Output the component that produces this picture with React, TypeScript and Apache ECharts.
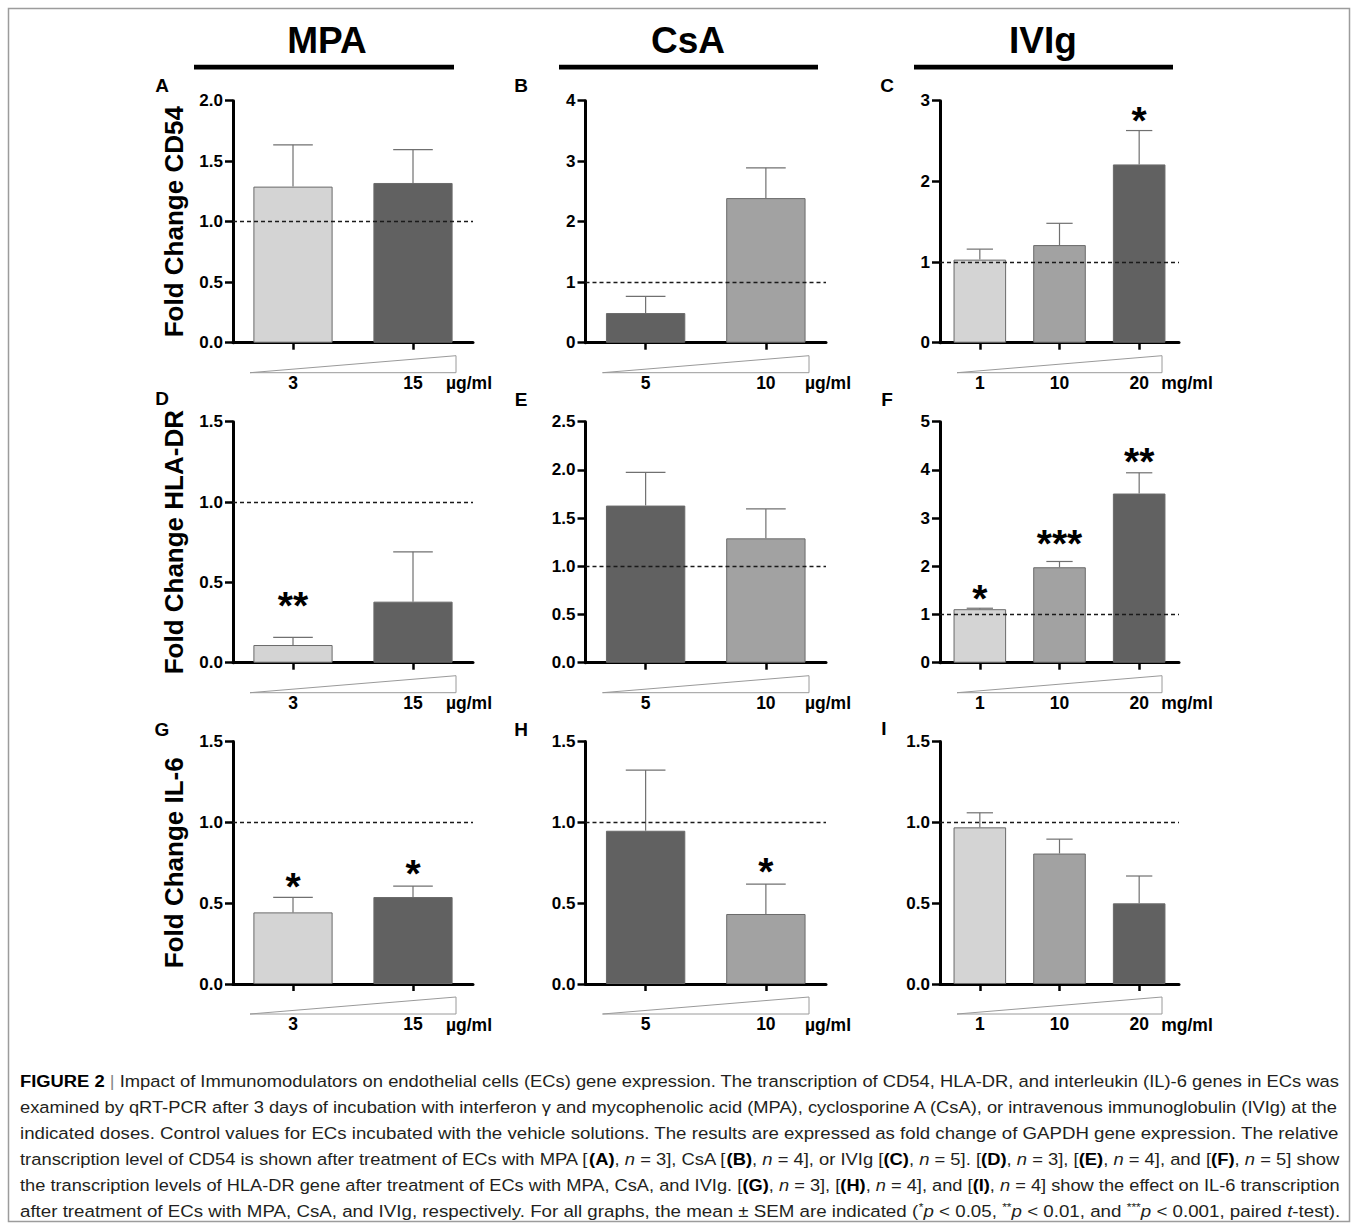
import React, { useEffect, useRef } from 'react';
import * as echarts from 'echarts';

const FONT = '"Liberation Sans", Arial, Helvetica, sans-serif';

// ---------- data ----------
const drugTitles = ['MPA', 'CsA', 'IVIg'];
const geneTitles = ['Fold Change CD54', 'Fold Change HLA-DR', 'Fold Change IL-6'];
const panelLetters = ['A', 'B', 'C', 'D', 'E', 'F', 'G', 'H', 'I'];
const dosesMPA = ['3', '15'];
const dosesCsA = ['5', '10'];
const dosesIVIg = ['1', '10', '20'];
const doseUnits = ['µg/ml', 'µg/ml', 'mg/ml'];

const cd54MPA = [1.29, 1.32];
const cd54MPASem = [0.345, 0.275];
const cd54CsA = [0.49, 2.39];
const cd54CsASem = [0.275, 0.5];
const cd54IVIg = [1.03, 1.21, 2.21];
const cd54IVIgSem = [0.13, 0.27, 0.42];

const hlaMPA = [0.11, 0.38];
const hlaMPASem = [0.048, 0.31];
const hlaCsA = [1.63, 1.29];
const hlaCsASem = [0.345, 0.305];
const hlaIVIg = [1.11, 1.98, 3.51];
const hlaIVIgSem = [0.02, 0.12, 0.43];

const il6MPA = [0.443, 0.538];
const il6MPASem = [0.093, 0.068];
const il6CsA = [0.948, 0.433];
const il6CsASem = [0.375, 0.185];
const il6IVIg = [0.969, 0.807, 0.499];
const il6IVIgSem = [0.09, 0.089, 0.169];

const yMaxes = [2, 4, 3, 1.5, 2.5, 5, 1.5, 1.5, 1.5];
const ySteps = [0.5, 1, 1, 0.5, 0.5, 1, 0.5, 0.5, 0.5];
const controlLevel = 1;

// significance marks: [category index, level (value units), text]
const starsC = [{ k: 2, v: 2.86, t: '*' }];
const starsD = [{ k: 0, v: 0.41, t: '**' }];
const starsF = [
  { k: 0, v: 1.51, t: '*' },
  { k: 1, v: 2.65, t: '***' },
  { k: 2, v: 4.36, t: '**' },
];
const starsG = [
  { k: 0, v: 0.66, t: '*' },
  { k: 1, v: 0.74, t: '*' },
];
const starsH = [{ k: 1, v: 0.75, t: '*' }];

const LIGHT = '#d4d4d4';
const MID = '#a2a2a2';
const DARK = '#616161';

const captionLines = [
  '<b>FIGURE 2</b> <g>|</g> Impact of Immunomodulators on endothelial cells (ECs) gene expression. The transcription of CD54, HLA-DR, and interleukin (IL)-6 genes in ECs was',
  'examined by qRT-PCR after 3 days of incubation with interferon γ and mycophenolic acid (MPA), cyclosporine A (CsA), or intravenous immunoglobulin (IVIg) at the',
  'indicated doses. Control values for ECs incubated with the vehicle solutions. The results are expressed as fold change of GAPDH gene expression. The relative',
  'transcription level of CD54 is shown after treatment of ECs with MPA [<b>(A)</b>, <i>n</i> = 3], CsA [<b>(B)</b>, <i>n</i> = 4], or IVIg [<b>(C)</b>, <i>n</i> = 5]. [<b>(D)</b>, <i>n</i> = 3], [<b>(E)</b>, <i>n</i> = 4], and [<b>(F)</b>, <i>n</i> = 5] show',
  'the transcription levels of HLA-DR gene after treatment of ECs with MPA, CsA, and IVIg. [<b>(G)</b>, <i>n</i> = 3], [<b>(H)</b>, <i>n</i> = 4], and [<b>(I)</b>, <i>n</i> = 4] show the effect on IL-6 transcription',
  'after treatment of ECs with MPA, CsA, and IVIg, respectively. For all graphs, the mean ± SEM are indicated (<s>*</s><i>p</i> < 0.05, <s>**</s><i>p</i> < 0.01, and <s>***</s><i>p</i> < 0.001, paired <i>t</i>-test).',
];

const panels = [
  { cats: dosesMPA, means: cd54MPA, sem: cd54MPASem, shades: [LIGHT, DARK], stars: [] as any[] },
  { cats: dosesCsA, means: cd54CsA, sem: cd54CsASem, shades: [DARK, MID], stars: [] as any[] },
  { cats: dosesIVIg, means: cd54IVIg, sem: cd54IVIgSem, shades: [LIGHT, MID, DARK], stars: starsC },
  { cats: dosesMPA, means: hlaMPA, sem: hlaMPASem, shades: [LIGHT, DARK], stars: starsD },
  { cats: dosesCsA, means: hlaCsA, sem: hlaCsASem, shades: [DARK, MID], stars: [] as any[] },
  { cats: dosesIVIg, means: hlaIVIg, sem: hlaIVIgSem, shades: [LIGHT, MID, DARK], stars: starsF },
  { cats: dosesMPA, means: il6MPA, sem: il6MPASem, shades: [LIGHT, DARK], stars: starsG },
  { cats: dosesCsA, means: il6CsA, sem: il6CsASem, shades: [DARK, MID], stars: starsH },
  { cats: dosesIVIg, means: il6IVIg, sem: il6IVIgSem, shades: [LIGHT, MID, DARK], stars: [] as any[] },
];

// ---------- layout ----------
const COL_L = [233, 585.5, 940];
const COL_R = [473, 826, 1179];
const ROW_T = [100.7, 421.7, 741.5];
const ROW_B = [342.7, 662.7, 984];
const TITLE_BAR = [
  [194, 454],
  [559, 818],
  [914, 1173],
];
const TITLE_X = [327, 688, 1043];
const UNIT_X = [469, 828, 1187];
const LETTER_POS = [
  [162, 85], [521, 85], [887, 85],
  [162, 398], [521, 399], [887, 399],
  [162, 729], [521, 729], [884, 728],
];

function parseLine(line: string) {
  const segs: { s: string; t: string }[] = [];
  const re = /<(b|i|s|g)>(.*?)<\/\1>/g;
  let last = 0;
  let m: RegExpExecArray | null;
  while ((m = re.exec(line))) {
    if (m.index > last) segs.push({ s: 'n', t: line.slice(last, m.index) });
    segs.push({ s: m[1], t: m[2] });
    last = m.index + m[0].length;
  }
  if (last < line.length) segs.push({ s: 'n', t: line.slice(last) });
  return segs;
}

const CAP_FS = 17;
const capFonts: Record<string, string> = {
  n: `${CAP_FS}px ${FONT}`,
  b: `bold ${CAP_FS}px ${FONT}`,
  i: `italic ${CAP_FS}px ${FONT}`,
  s: `11px ${FONT}`,
  g: `${CAP_FS}px ${FONT}`,
};

export default function App() {
  const ref = useRef<HTMLDivElement>(null);
  useEffect(() => {
    document.body.style.margin = '0';
    document.body.style.overflow = 'hidden';
    if (!ref.current) return;
    const chart = echarts.init(ref.current, undefined, { renderer: 'svg' });

    const grids: any[] = [];
    const xAxes: any[] = [];
    const yAxes: any[] = [];
    const series: any[] = [];
    const graphics: any[] = [];

    panels.forEach((p, i) => {
      const r = Math.floor(i / 3);
      const c = i % 3;
      grids.push({
        left: COL_L[c],
        top: ROW_T[r],
        width: COL_R[c] - COL_L[c],
        height: ROW_B[r] - ROW_T[r],
        containLabel: false,
        outerBoundsMode: 'none',
      });
      xAxes.push({
        type: 'category',
        gridIndex: i,
        data: p.cats,
        boundaryGap: true,
        axisLine: { show: true, onZero: false, lineStyle: { color: '#000', width: 3 } },
        axisTick: { show: true, alignWithLabel: true, length: 7, lineStyle: { color: '#000', width: 2.5 } },
        axisLabel: { show: true, margin: 31, fontSize: 17.5, fontWeight: 'bold', color: '#000', fontFamily: FONT },
        splitLine: { show: false },
      });
      const step = ySteps[i];
      yAxes.push({
        type: 'value',
        gridIndex: i,
        min: 0,
        max: yMaxes[i],
        interval: step,
        axisLine: { show: true, lineStyle: { color: '#000', width: 3 } },
        axisTick: { show: true, length: 8, lineStyle: { color: '#000', width: 2.5 } },
        axisLabel: {
          show: true,
          margin: 10,
          fontSize: 17,
          fontWeight: 'bold',
          color: '#000',
          fontFamily: FONT,
          formatter: (v: number) => (step < 1 ? v.toFixed(1) : String(Math.round(v))),
        },
        splitLine: { show: false },
        name: c === 0 ? geneTitles[r] : '',
        nameLocation: 'middle',
        nameGap: 46,
        nameRotate: 90,
        nameTextStyle: { fontSize: 26, fontWeight: 'bold', color: '#000', fontFamily: FONT },
      });
      series.push({
        type: 'bar',
        xAxisIndex: i,
        yAxisIndex: i,
        barWidth: '66%',
        data: p.means.map((v, k) => ({ value: v, itemStyle: { color: p.shades[k] } })),
        itemStyle: { borderColor: '#6a6a6a', borderWidth: 1 },
        z: 2,
        markLine: {
          silent: true,
          symbol: ['none', 'none'],
          label: { show: false },
          lineStyle: { color: '#1a1a1a', type: [4, 3], width: 1.4 },
          data: [{ yAxis: controlLevel }],
          z: 5,
        },
      });
      series.push({
        type: 'custom',
        xAxisIndex: i,
        yAxisIndex: i,
        z: 3,
        data: p.means.map((v, k) => [k, v, v + p.sem[k]]),
        renderItem: (params: any, api: any) => {
          const cat = api.value(0);
          const lo = api.coord([cat, api.value(1)]);
          const hi = api.coord([cat, api.value(2)]);
          const band = api.size([1, 0])[0];
          const half = (band * 0.66) / 4;
          const st = { stroke: '#707070', lineWidth: 1.2 };
          return {
            type: 'group',
            children: [
              { type: 'line', shape: { x1: lo[0], y1: lo[1], x2: hi[0], y2: hi[1] }, style: st },
              { type: 'line', shape: { x1: hi[0] - half, y1: hi[1], x2: hi[0] + half, y2: hi[1] }, style: st },
            ],
          };
        },
      });
      if (p.stars.length) {
        const st = p.stars;
        series.push({
          type: 'custom',
          xAxisIndex: i,
          yAxisIndex: i,
          z: 4,
          data: st.map((s: any) => [s.k, s.v]),
          renderItem: (params: any, api: any) => {
            const pt = api.coord([api.value(0), api.value(1)]);
            return {
              type: 'text',
              x: pt[0],
              y: pt[1] + 9,
              style: {
                text: st[params.dataIndex].t,
                fontSize: 39,
                fontWeight: 'bold',
                fontFamily: FONT,
                fill: '#000',
                align: 'center',
                verticalAlign: 'middle',
              },
            };
          },
        });
      }
      // dose triangle
      const yb = ROW_B[r] + 30;
      graphics.push({
        type: 'polygon',
        shape: {
          points: [
            [COL_L[c] + 17, yb],
            [COL_R[c] - 17, yb],
            [COL_R[c] - 17, yb - 17],
          ],
        },
        style: { fill: '#fff', stroke: '#9a9a9a', lineWidth: 1 },
        silent: true,
      });
      graphics.push({
        type: 'text',
        x: UNIT_X[c],
        y: ROW_B[r] + 40.5,
        style: {
          text: doseUnits[c],
          fontSize: 17.5,
          fontWeight: 'bold',
          fontFamily: FONT,
          fill: '#000',
          align: 'center',
          verticalAlign: 'middle',
        },
      });
      graphics.push({
        type: 'text',
        x: LETTER_POS[i][0],
        y: LETTER_POS[i][1],
        style: {
          text: panelLetters[i],
          fontSize: 19,
          fontWeight: 'bold',
          fontFamily: FONT,
          fill: '#000',
          align: 'center',
          verticalAlign: 'middle',
        },
      });
    });

    // column titles and bars
    drugTitles.forEach((t, c) => {
      graphics.push({
        type: 'text',
        x: TITLE_X[c],
        y: 40,
        style: {
          text: t,
          fontSize: 37,
          fontWeight: 'bold',
          fontFamily: FONT,
          fill: '#000',
          align: 'center',
          verticalAlign: 'middle',
        },
      });
      graphics.push({
        type: 'rect',
        shape: { x: TITLE_BAR[c][0], y: 64.8, width: TITLE_BAR[c][1] - TITLE_BAR[c][0], height: 4.6 },
        style: { fill: '#000' },
      });
    });

    // frame
    graphics.push({
      type: 'rect',
      shape: { x: 8.5, y: 8.5, width: 1341, height: 1213 },
      style: { fill: 'none', stroke: '#9c9c9c', lineWidth: 1.5 },
      silent: true,
    });

    // caption
    const canvas = document.createElement('canvas');
    const ctx = canvas.getContext('2d')!;
    const CAP_W = 1320;
    captionLines.forEach((line, li) => {
      const segs = parseLine(line);
      let w = 0;
      segs.forEach((sg) => {
        ctx.font = capFonts[sg.s];
        w += ctx.measureText(sg.t).width;
      });
      const sx = CAP_W / w;
      const rich = segs.map((sg) => `{${sg.s}|${sg.t}}`).join('');
      graphics.push({
        type: 'text',
        x: 20,
        y: 1081 + li * 26.1,
        scaleX: sx,
        style: {
          text: rich,
          align: 'left',
          verticalAlign: 'middle',
          rich: {
            n: { fontSize: CAP_FS, fontFamily: FONT, fill: '#231f20', lineHeight: 20 },
            b: { fontSize: CAP_FS, fontFamily: FONT, fontWeight: 'bold', fill: '#000', lineHeight: 20 },
            i: { fontSize: CAP_FS, fontFamily: FONT, fontStyle: 'italic', fill: '#231f20', lineHeight: 20 },
            s: { fontSize: 11, fontFamily: FONT, fill: '#231f20', lineHeight: 20, verticalAlign: 'top' },
            g: { fontSize: CAP_FS, fontFamily: FONT, fill: '#888', lineHeight: 20 },
          },
        },
      });
    });

    chart.setOption({
      animation: false,
      backgroundColor: '#fff',
      textStyle: { fontFamily: FONT },
      grid: grids,
      xAxis: xAxes,
      yAxis: yAxes,
      series,
      graphic: { elements: graphics },
    });
    return () => chart.dispose();
  }, []);
  return <div ref={ref} style={{ width: 1358, height: 1223 }} />;
}
